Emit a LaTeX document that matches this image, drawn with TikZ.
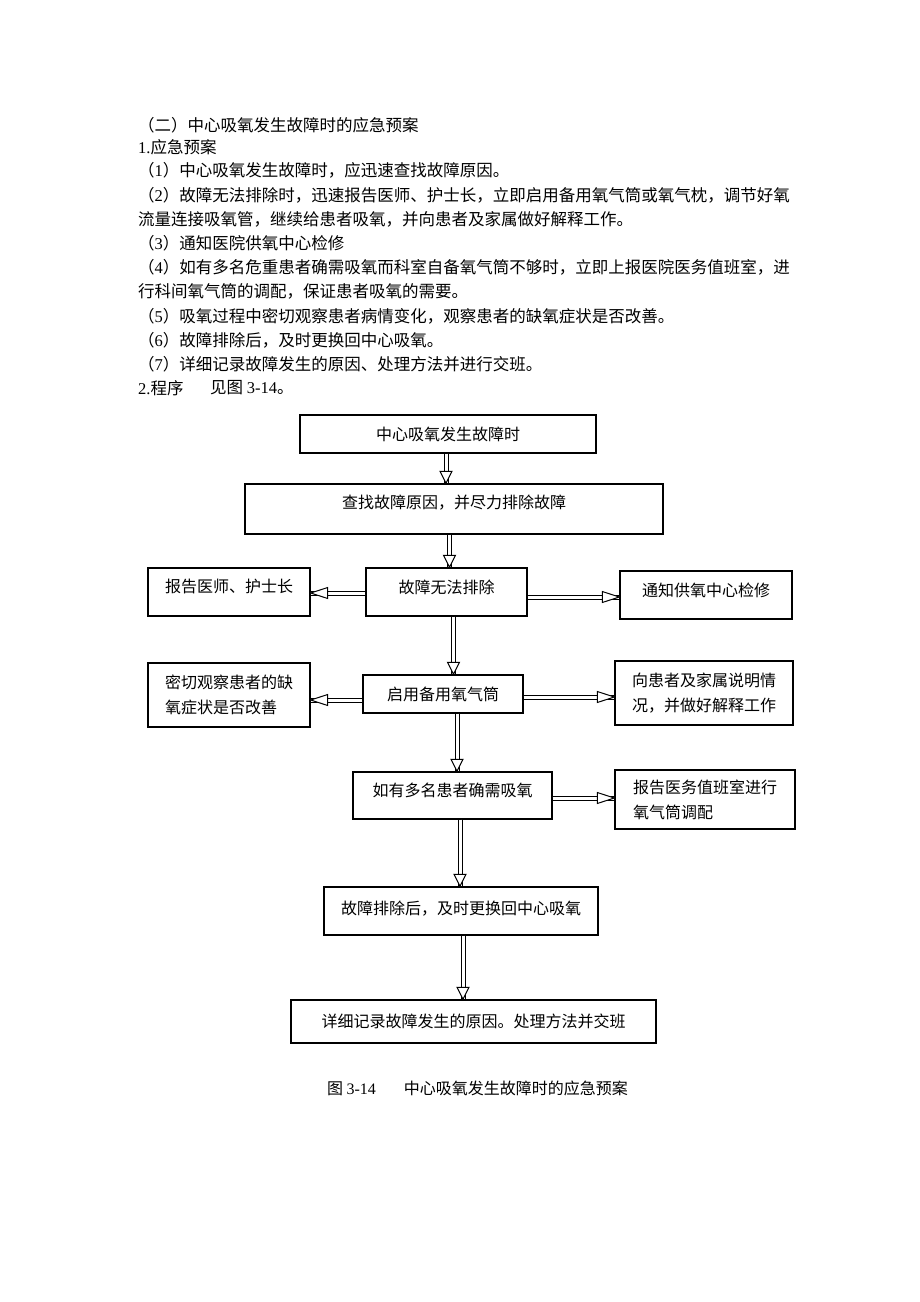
\documentclass[tikz,border=0pt]{standalone}
\usepackage{fontspec}
\setmainfont{Noto Sans CJK SC}
\newfontfamily\latfont{Liberation Serif}
\newcommand\lat[1]{{\latfont #1}}
\newcommand\up[2]{\raisebox{#1pt}[\height][\depth]{#2}}
\usetikzlibrary{decorations.markings}
\tikzset{
  txt/.style={anchor=west, inner sep=0pt, font=\fontsize{16.5}{20}\selectfont},
  box/.style={draw, line width=1.4pt, inner sep=0pt, font=\fontsize{16}{25}\selectfont, align=center},
  mbox/.style={box, align=left},
  shaft/.style={double=white, double distance=3pt, line width=1pt},
  vhead/.style={decorate, decoration={markings, mark=at position 1 with {\draw[line width=1pt, fill=white, line join=miter] (0,0) -- (-12pt,6pt) -- (-12pt,-6pt) -- cycle;}}},
  hhead/.style={decorate, decoration={markings, mark=at position 1 with {\draw[line width=1pt, fill=white, line join=miter] (0,0) -- (-17pt,5.5pt) -- (-17pt,-5.5pt) -- cycle;}}},
}
\newcommand\varr[2]{\draw[shaft] #1 -- #2; \path[vhead] #1 -- #2;}
\newcommand\harr[2]{\draw[shaft] #1 -- #2; \path[hhead] #1 -- #2;}
\begin{document}
\begin{tikzpicture}[x=1pt,y=-1pt]
\fill[white] (0,0) rectangle (920,1302);
\useasboundingbox (0,0) rectangle (920,1302);
% paragraph text
\node[txt] (t1) at (138,125) {（二）中心吸氧发生故障时的应急预案};
\node[txt] (t2) at (138,147) {\lat{1.}应急预案};
\node[txt] (t3) at (138,170) {（\lat{1}）中心吸氧发生故障时，应迅速查找故障原因。};
\node[txt] (t4) at (138,195) {（\lat{2}）故障无法排除时，迅速报告医师、护士长，立即启用备用氧气筒或氧气枕，调节好氧};
\node[txt] (t5) at (138,219) {流量连接吸氧管，继续给患者吸氧，并向患者及家属做好解释工作。};
\node[txt] (t6) at (138,243) {（\lat{3}）通知医院供氧中心检修};
\node[txt] (t7) at (138,267) {（\lat{4}）如有多名危重患者确需吸氧而科室自备氧气筒不够时，立即上报医院医务值班室，进};
\node[txt] (t8) at (138,291) {行科间氧气筒的调配，保证患者吸氧的需要。};
\node[txt] (t9) at (138,316) {（\lat{5}）吸氧过程中密切观察患者病情变化，观察患者的缺氧症状是否改善。};
\node[txt] (t10) at (138,340) {（\lat{6}）故障排除后，及时更换回中心吸氧。};
\node[txt] (t11) at (138,364) {（\lat{7}）详细记录故障发生的原因、处理方法并进行交班。};
\node[txt] (t12) at (138,388) {\lat{2.}程序};
\node[txt] (t13) at (210,388) {见图 \lat{3-14}。};
% boxes
\node[box, minimum width=296pt, minimum height=38pt] (b1) at (448,434) {中心吸氧发生故障时};
\node[box, minimum width=418pt, minimum height=50pt] (b2) at (454,509) {\up{6}{查找故障原因，并尽力排除故障}};
\node[box, minimum width=162pt, minimum height=48pt] (b3) at (229,592) {\up{6}{报告医师、护士长}};
\node[box, minimum width=161pt, minimum height=48pt] (b4) at (446.5,592) {\up{5}{故障无法排除}};
\node[box, minimum width=172pt, minimum height=48pt] (b5) at (706,595) {\up{5}{通知供氧中心检修}};
\node[mbox, minimum width=162pt, minimum height=64pt] (b6) at (229,695) {密切观察患者的缺\\氧症状是否改善};
\node[box, minimum width=160pt, minimum height=38pt] (b7) at (443,694) {启用备用氧气筒};
\node[mbox, minimum width=178pt, minimum height=64pt] (b8) at (704,693) {向患者及家属说明情\\况，并做好解释工作};
\node[box, minimum width=199pt, minimum height=47pt] (b9) at (452.5,795.5) {\up{5}{如有多名患者确需吸氧}};
\node[mbox, minimum width=180pt, minimum height=59pt] (b10) at (705,799.5) {报告医务值班室进行\\氧气筒调配};
\node[box, minimum width=274pt, minimum height=48pt] (b11) at (461,911) {\up{2}{故障排除后，及时更换回中心吸氧}};
\node[box, minimum width=365pt, minimum height=43pt] (b12) at (473.5,1021.5) {详细记录故障发生的原因。处理方法并交班};
% caption
\node[inner sep=0pt, font=\fontsize{16}{20}\selectfont] (cap) at (477.5,1088) {图 \lat{3-14}\hspace{28pt}中心吸氧发生故障时的应急预案};
% arrows
\varr{([xshift=-2pt]b1.south)}{([xshift=-2pt]b1.south |- b2.north)}
\varr{([xshift=3pt]b2.south -| b4.north)}{([xshift=3pt]b4.north)}
\varr{([xshift=7pt]b4.south)}{([xshift=7pt]b4.south |- b7.north)}
\varr{([xshift=14pt]b7.south)}{([xshift=14pt]b7.south |- b9.north)}
\varr{([xshift=7.5pt]b9.south)}{([xshift=7.5pt]b9.south |- b11.north)}
\varr{([xshift=2pt]b11.south)}{([xshift=2pt]b11.south |- b12.north)}
\harr{([yshift=-1pt]b4.west)}{([yshift=-1pt]b4.west -| b3.east)}
\harr{([yshift=-5pt]b4.east)}{([yshift=-5pt]b4.east -| b5.west)}
\harr{([yshift=-6pt]b7.west)}{([yshift=-6pt]b7.west -| b6.east)}
\harr{([yshift=-3pt]b7.east)}{([yshift=-3pt]b7.east -| b8.west)}
\harr{([yshift=-2.5pt]b9.east)}{([yshift=-2.5pt]b9.east -| b10.west)}
\end{tikzpicture}
\end{document}
